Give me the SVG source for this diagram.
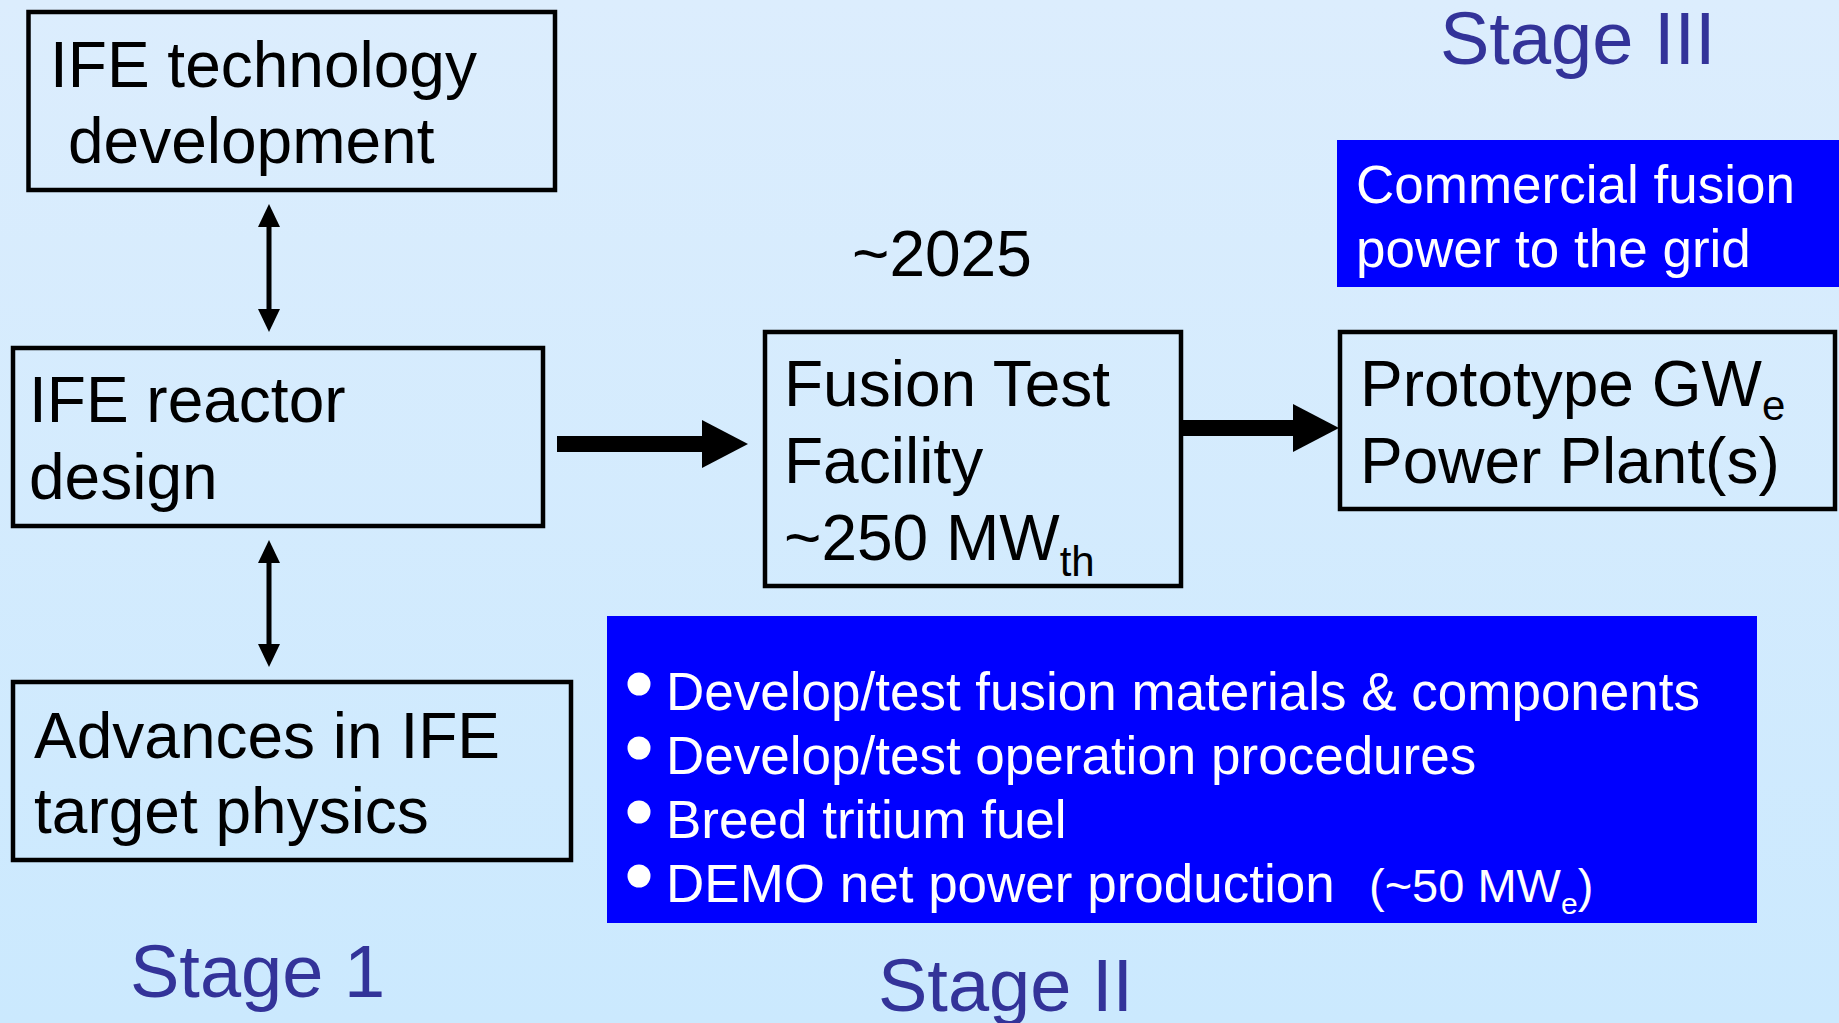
<svg xmlns="http://www.w3.org/2000/svg" width="1839" height="1023" viewBox="0 0 1839 1023">
  <defs>
    <linearGradient id="bg" x1="0" y1="0" x2="0" y2="1">
      <stop offset="0" stop-color="#DCEDFD"/>
      <stop offset="1" stop-color="#CBE9FE"/>
    </linearGradient>
    <style>
      .box { fill: none; stroke: #000; stroke-width: 4.5; }
      .t { font-family: "Liberation Sans", Arial, sans-serif; font-size: 64px; fill: #000; }
      .stage { font-family: "Liberation Sans", Arial, sans-serif; font-size: 74px; fill: #333399; }
      .panel { fill: #0000FF; }
      .w { font-family: "Liberation Sans", Arial, sans-serif; font-size: 53px; fill: #FFFFFF; }
      .ws { font-size: 47px; }
      .dot { fill: #FFFFFF; }
      .arrow { fill: #000; }
    </style>
  </defs>
  <rect x="0" y="0" width="1839" height="1023" fill="url(#bg)"/>

  <g id="stage-labels">
    <text class="stage" x="130" y="997">Stage 1</text>
    <text class="stage" x="878" y="1011">Stage II</text>
    <text class="stage" x="1440" y="64">Stage III</text>
  </g>

  <g id="node-tech">
    <rect class="box" x="28.5" y="12" width="526.5" height="178"/>
    <text class="t" x="50" y="87">IFE technology</text>
    <text class="t" x="68" y="163">development</text>
  </g>

  <g id="node-reactor">
    <rect class="box" x="13" y="348" width="530" height="178"/>
    <text class="t" x="29" y="422">IFE reactor</text>
    <text class="t" x="29" y="499">design</text>
  </g>

  <g id="node-physics">
    <rect class="box" x="13" y="682" width="558" height="178"/>
    <text class="t" x="34" y="758">Advances in IFE</text>
    <text class="t" x="34" y="833">target physics</text>
  </g>

  <g id="label-year">
    <text class="t" x="852" y="276">~2025</text>
  </g>

  <g id="node-ftf">
    <rect class="box" x="765" y="332" width="416" height="254"/>
    <text class="t" x="784" y="406">Fusion Test</text>
    <text class="t" x="784" y="483">Facility</text>
    <text class="t" x="784" y="560">~250 MW<tspan font-size="42" dy="16">th</tspan></text>
  </g>

  <g id="node-prototype">
    <rect class="box" x="1340" y="332" width="495" height="177"/>
    <text class="t" x="1360" y="406">Prototype GW<tspan font-size="42" dy="14">e</tspan></text>
    <text class="t" x="1360" y="483">Power Plant(s)</text>
  </g>

  <g id="node-commercial">
    <rect class="panel" x="1337" y="140" width="502" height="147"/>
    <text class="w" x="1356" y="203">Commercial fusion</text>
    <text class="w" x="1356" y="267">power to the grid</text>
  </g>

  <g id="node-goals">
    <rect class="panel" x="607" y="616" width="1150" height="307"/>
    <circle class="dot" cx="639" cy="684" r="11.5"/>
    <circle class="dot" cx="639" cy="748" r="11.5"/>
    <circle class="dot" cx="639" cy="812" r="11.5"/>
    <circle class="dot" cx="639" cy="876" r="11.5"/>
    <text class="w" x="666" y="710">Develop/test fusion materials &amp; components</text>
    <text class="w" x="666" y="774">Develop/test operation procedures</text>
    <text class="w" x="666" y="838">Breed tritium fuel</text>
    <text class="w" x="666" y="902">DEMO net power production</text>
    <text class="w ws" x="1369" y="902">(~50 MW<tspan font-size="30" dy="12">e</tspan><tspan dy="-12">)</tspan></text>
  </g>

  <g id="connectors">
    <rect class="arrow" x="266.5" y="226" width="5" height="84"/>
    <polygon class="arrow" points="269,204 258,227 280,227"/>
    <polygon class="arrow" points="269,332 258,309 280,309"/>

    <rect class="arrow" x="266.5" y="562" width="5" height="84"/>
    <polygon class="arrow" points="269,540 258,563 280,563"/>
    <polygon class="arrow" points="269,667 258,644 280,644"/>

    <rect class="arrow" x="557" y="436" width="146" height="16"/>
    <polygon class="arrow" points="702,420 748,444 702,468"/>

    <rect class="arrow" x="1183" y="420" width="111" height="16"/>
    <polygon class="arrow" points="1293,404 1339,428 1293,452"/>
  </g>
</svg>
